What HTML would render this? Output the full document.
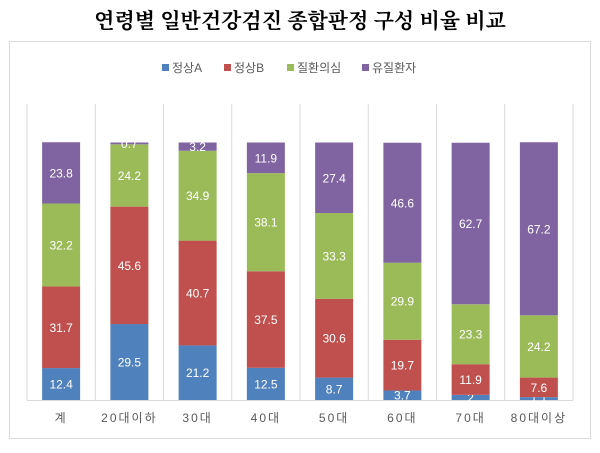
<!DOCTYPE html>
<html><head><meta charset="utf-8"><style>
body{margin:0;width:600px;height:448px;background:#fff;font-family:"Liberation Sans","Noto Sans CJK KR",sans-serif;}
</style></head><body>
<svg width="600" height="448">
<text x="300" y="28" text-anchor="middle" font-family="'Noto Serif CJK SC','Liberation Serif',serif" font-weight="bold" font-size="21" fill="#000">연령별 일반건강검진 종합판정 구성 비율 비교</text>
<rect x="9.5" y="41.5" width="581" height="397" fill="none" stroke="#d9d9d9"/>
<g id="legend"></g>
<g id="grid"></g><g id="bars"></g><g id="xl"></g>
</svg>
<script>
const categories=["계","20대이하","30대","40대","50대","60대","70대","80대이상"];
const normalA=[12.4,29.5,21.2,12.5,8.7,3.7,2,1.1];
const normalB=[31.7,45.6,40.7,37.5,30.6,19.7,11.9,7.6];
const suspect=[32.2,24.2,34.9,38.1,33.3,29.9,23.3,24.2];
const patient=[23.8,0.7,3.2,11.9,27.4,46.6,62.7,67.2];
const seriesNames=["정상A","정상B","질환의심","유질환자"];
const colors=["#4f81bd","#c0504d","#9bbb59","#8064a2"];
const series=[normalA,normalB,suspect,patient];
const NS="http://www.w3.org/2000/svg";
const x0=27,step=68.25,bw=38,yTop=142.5,yBot=400;
const xs=i=>x0+step*i+step/2;
const ys=v=>(yBot-yTop)*v/100;
function mk(t,a,p){const e=document.createElementNS(NS,t);for(const k in a)e.setAttribute(k,a[k]);p.appendChild(e);return e;}
const grid=document.getElementById('grid');
for(let i=0;i<=categories.length;i++){
 const l=mk('line',{x1:x0+step*i,x2:x0+step*i,y1:104,y2:yBot,stroke:'#d9d9d9'},grid);
 
 
}
const ax=mk('line',{x1:x0,x2:x0+step*categories.length,y1:yBot+0.5,y2:yBot+0.5,stroke:'#d9d9d9'},grid);


const bars=document.getElementById('bars'),xl=document.getElementById('xl');
categories.forEach((c,i)=>{
 let acc=0;
 series.forEach((s,k)=>{
  const v=s[i],h=ys(v),y=yBot-ys(acc+v);
  const r=mk('rect',{x:xs(i)-bw/2,y:y,width:bw,height:h,fill:colors[k]},bars);
  
  
  const t=mk('text',{x:xs(i),y:y+h/2+4.5,'text-anchor':'middle','font-size':'12',fill:'#fff'},bars);
  t.textContent=v;
  
  
  acc+=v;
 });
 const t=mk('text',{x:xs(i),y:422,'text-anchor':'middle','font-size':'12',fill:'#595959','letter-spacing':'2'},xl);
 t.textContent=c;
 
 
});
const lg=document.getElementById('legend');
const lx=[162,224,287,362];
seriesNames.forEach((n,k)=>{
 const r=mk('rect',{x:lx[k],y:64,width:7,height:7,fill:colors[k]},lg);
 
 
 const t=mk('text',{x:lx[k]+10,y:72,'font-size':'12',fill:'#595959'},lg);
 t.textContent=n;
 
 
});
</script>
</body></html>
